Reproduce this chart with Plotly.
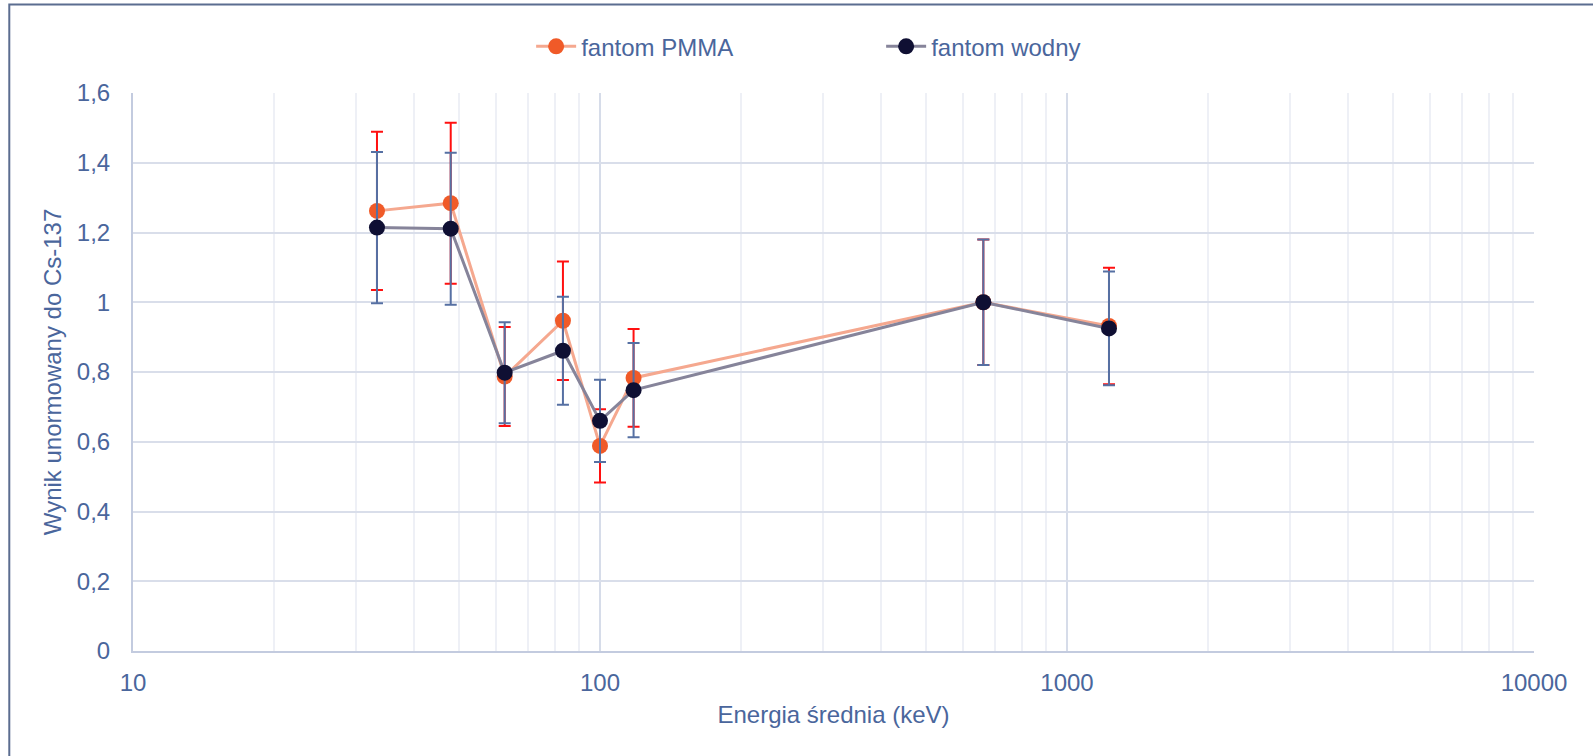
import plotly.graph_objects as go

energy = [33.3, 47.9, 62.5, 83.3, 100, 118, 662, 1230]

pmma_vals = [1.262, 1.284, 0.787, 0.947, 0.588, 0.783, 1.000, 0.932]
pmma_err = [0.227, 0.231, 0.142, 0.170, 0.105, 0.140, 0.180, 0.167]

water_vals = [1.214, 1.211, 0.798, 0.861, 0.660, 0.748, 1.000, 0.925]
water_err = [0.217, 0.218, 0.145, 0.155, 0.118, 0.135, 0.180, 0.163]

series_names = ["fantom PMMA", "fantom wodny"]
y_ticks = [0, 0.2, 0.4, 0.6, 0.8, 1.0, 1.2, 1.4, 1.6]
y_ticktext = ["0", "0,2", "0,4", "0,6", "0,8", "1", "1,2", "1,4", "1,6"]
x_ticks = [10, 100, 1000, 10000]
x_ticktext = ["10", "100", "1000", "10000"]

TXT = "#4a669c"
FONT = "Liberation Sans, Arial, sans-serif"

fig = go.Figure()
fig.add_trace(go.Scatter(
    x=energy, y=pmma_vals, name=series_names[0], mode="lines+markers",
    line=dict(color="#f5a88f", width=3),
    marker=dict(color="#f05a28", size=16),
    error_y=dict(type="data", array=pmma_err, visible=True, color="#ff1010",
                 thickness=2, width=6),
))
fig.add_trace(go.Scatter(
    x=energy, y=water_vals, name=series_names[1], mode="lines+markers",
    line=dict(color="#86849a", width=3),
    marker=dict(color="#0f0f33", size=16),
    error_y=dict(type="data", array=water_err, visible=True, color="#5670a3",
                 thickness=2, width=6),
))

fig.update_layout(
    width=1593, height=756,
    margin=dict(l=133, r=59, t=93, b=105, autoexpand=False),
    paper_bgcolor="white", plot_bgcolor="white",
    font=dict(family=FONT, size=24, color=TXT),
    separators=",",
    showlegend=True,
    legend=dict(orientation="h", x=0.534, xanchor="center", y=1.083, yanchor="middle",
                font=dict(size=24, color=TXT), entrywidth=295, itemwidth=40,
                bgcolor="rgba(0,0,0,0)"),
    shapes=[dict(type="rect", xref="paper", yref="paper",
                 x0=-0.0883, x1=1.5, y0=-0.5, y1=1.1584,
                 line=dict(color="#5b6d90", width=2), layer="above")],
)

fig.update_xaxes(
    type="log", range=[1, 4], tickvals=x_ticks, ticktext=x_ticktext,
    showgrid=True, gridcolor="#d6dce9", gridwidth=1.5,
    minor=dict(showgrid=True, gridcolor="#eef0f6", gridwidth=1.5, dtick="D1"),
    showline=True, linecolor="#c3cbdf", linewidth=2,
    ticks="", ticklabelstandoff=9, zeroline=False,
    title=dict(text="Energia średnia (keV)", font=dict(size=24, color=TXT), standoff=11),
    tickfont=dict(size=24, color=TXT),
)
fig.update_yaxes(
    range=[0, 1.6], tickvals=y_ticks, ticktext=y_ticktext,
    showgrid=True, gridcolor="#d9deea", gridwidth=1.5,
    showline=True, linecolor="#c3cbdf", linewidth=2,
    ticks="", ticklabelstandoff=16, zeroline=False,
    title=dict(text="Wynik unormowany do Cs-137", font=dict(size=24, color=TXT), standoff=8),
    tickfont=dict(size=24, color=TXT),
)

fig.write_html("out.html")
